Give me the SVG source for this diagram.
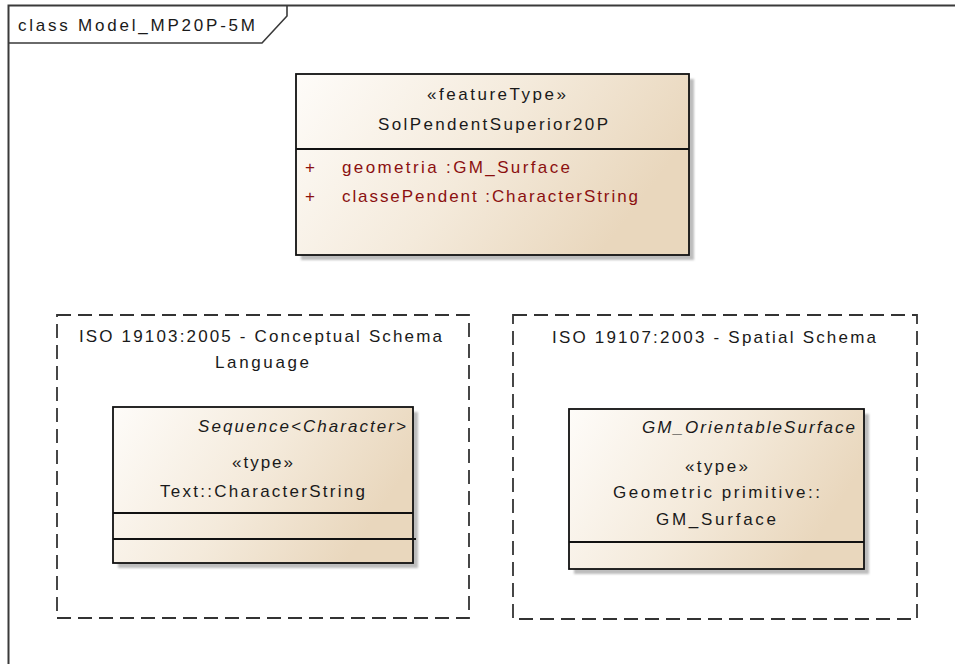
<svg xmlns="http://www.w3.org/2000/svg" width="955" height="664" viewBox="0 0 955 664">
<defs>
<linearGradient id="fill" x1="0" y1="0" x2="1" y2="0.35">
<stop offset="0" stop-color="#fefcf9"/>
<stop offset="0.55" stop-color="#f4eadb"/>
<stop offset="1" stop-color="#e9d7bd"/>
</linearGradient>
<filter id="blur" x="-5%" y="-5%" width="110%" height="110%"><feGaussianBlur stdDeviation="1"/></filter>
</defs>
<style>
text{font-family:"Liberation Sans",Arial,sans-serif;font-size:17px;fill:#1a1a1a}
.it{font-style:italic}
.attr{fill:#8b1010}
.pkg{fill:none;stroke:#333;stroke-width:1.8;stroke-dasharray:14 7}
.cls{fill:url(#fill);stroke:#111;stroke-width:1.8}
.shadow{fill:#bdbdbd;filter:url(#blur)}
.div{stroke:#111;stroke-width:1.8}
</style>
<rect width="955" height="664" fill="#ffffff"/>
<g id="frame">
<path d="M8.5,670 V5.5 H965" fill="none" stroke="#3a3a3a" stroke-width="2"/>
<path d="M8.5,43 H262 L287,16 V5.5" fill="none" stroke="#3a3a3a" stroke-width="1.6"/>
<text x="18" y="31" font-size="18" textLength="237" lengthAdjust="spacing">class Model_MP20P-5M</text>
</g>
<g id="connectors"></g>
<g id="SolPendentSuperior20P">
<rect class="shadow" x="301" y="79" width="393" height="181"/>
<rect class="cls" x="296" y="74" width="393" height="181"/>
<line class="div" x1="296" y1="149" x2="689" y2="149"/>
<text x="427" y="100" textLength="139" lengthAdjust="spacing">«featureType»</text>
<text x="378" y="130" font-size="18" textLength="230" lengthAdjust="spacing">SolPendentSuperior20P</text>
<text class="attr" x="305" y="173">+</text>
<text class="attr" x="342" y="173" textLength="228" lengthAdjust="spacing">geometria :GM_Surface</text>
<text class="attr" x="305" y="202">+</text>
<text class="attr" x="342" y="202" textLength="296" lengthAdjust="spacing">classePendent :CharacterString</text>
</g>
<g id="pkg_ISO19103">
<rect class="pkg" x="57" y="315" width="412" height="303"/>
<text x="79" y="342" font-size="18" textLength="363" lengthAdjust="spacing">ISO 19103:2005 - Conceptual Schema</text>
<text x="215" y="368" font-size="18" textLength="94" lengthAdjust="spacing">Language</text>
</g>
<g id="CharacterString">
<rect class="shadow" x="118" y="412" width="300" height="156"/>
<rect class="cls" x="113" y="407" width="300" height="156"/>
<line class="div" x1="113" y1="513" x2="413" y2="513"/>
<line class="div" x1="113" y1="539" x2="416" y2="539"/>
<text class="it" x="198" y="432" textLength="208" lengthAdjust="spacing">Sequence&lt;Character&gt;</text>
<text x="232" y="468" textLength="61" lengthAdjust="spacing">«type»</text>
<text x="160" y="497" font-size="18" textLength="205" lengthAdjust="spacing">Text::CharacterString</text>
</g>
<g id="pkg_ISO19107">
<rect class="pkg" x="513" y="315" width="404" height="304"/>
<text x="552" y="343" font-size="18" textLength="324" lengthAdjust="spacing">ISO 19107:2003 - Spatial Schema</text>
</g>
<g id="GM_Surface">
<rect class="shadow" x="574" y="414" width="295" height="160"/>
<rect class="cls" x="569" y="409" width="295" height="160"/>
<line class="div" x1="569" y1="542" x2="864" y2="542"/>
<text class="it" x="642" y="433" textLength="213" lengthAdjust="spacing">GM_OrientableSurface</text>
<text x="685" y="472" textLength="63" lengthAdjust="spacing">«type»</text>
<text x="613" y="498" font-size="18" textLength="207" lengthAdjust="spacing">Geometric primitive::</text>
<text x="656" y="525" font-size="18" textLength="120" lengthAdjust="spacing">GM_Surface</text>
</g>
</svg>
